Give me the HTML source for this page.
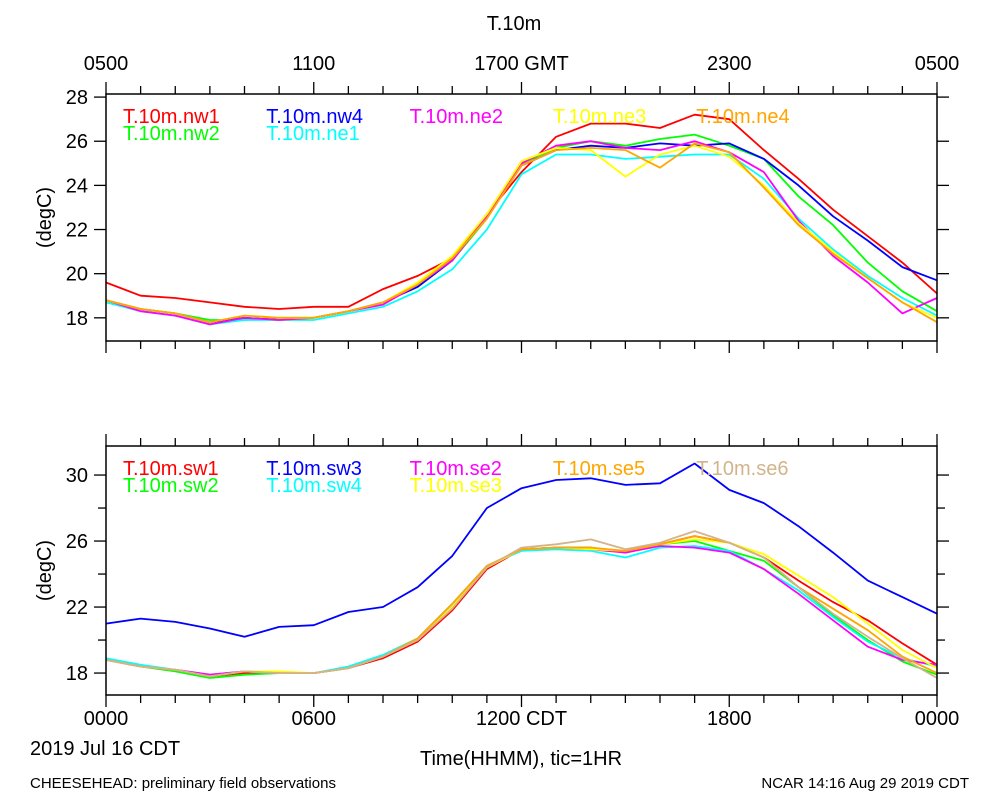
<!DOCTYPE html>
<html><head><meta charset="utf-8"><style>
body{margin:0;background:#fff;}
svg{display:block;font-family:"Liberation Sans",sans-serif;}
</style></head><body>
<svg id="chart" width="1000" height="800" viewBox="0 0 1000 800">
<text x="514" y="30" font-size="20" text-anchor="middle">T.10m</text>
<text x="30" y="755" font-size="20">2019 Jul 16 CDT</text>
<text x="521" y="765" font-size="20" text-anchor="middle">Time(HHMM), tic=1HR</text>
<text x="30" y="788" font-size="15">CHEESEHEAD: preliminary field observations</text>
<text x="969" y="788" font-size="15" text-anchor="end">NCAR 14:16 Aug 29 2019 CDT</text>
</svg>
<script>
const hours=[0,1,2,3,4,5,6,7,8,9,10,11,12,13,14,15,16,17,18,19,20,21,22,23,24];
const topTickLabels=["0500","1100","1700 GMT","2300","0500"];
const botTickLabels=["0000","0600","1200 CDT","1800","0000"];
const topYTicks=[18,20,22,24,26,28];
const botYLabels=[18,22,26,30];
const nw1=[19.6,19.0,18.9,18.7,18.5,18.4,18.5,18.5,19.3,19.9,20.7,22.7,24.6,26.2,26.8,26.8,26.6,27.2,27.0,25.6,24.3,22.9,21.7,20.5,19.1];
const nw4=[18.8,18.4,18.2,17.8,18.0,17.9,18.0,18.3,18.7,19.4,20.6,22.6,24.9,25.6,25.8,25.7,25.9,25.8,25.9,25.2,24.0,22.6,21.5,20.3,19.7];
const ne2=[18.8,18.3,18.1,17.7,18.0,17.9,18.0,18.3,18.6,19.5,20.6,22.6,25.0,25.8,26.0,25.7,25.6,26.0,25.5,24.6,22.4,20.8,19.6,18.2,18.9];
const ne3=[18.8,18.4,18.2,17.8,18.1,18.0,18.0,18.3,18.7,19.6,20.8,22.7,25.1,25.7,25.6,24.4,25.4,25.8,25.3,24.0,22.3,21.0,19.8,18.7,18.0];
const ne4=[18.8,18.4,18.2,17.8,18.1,18.0,18.0,18.3,18.7,19.5,20.7,22.5,24.9,25.6,25.7,25.6,24.8,25.9,25.5,23.9,22.2,20.9,19.8,18.7,17.8];
const nw2=[18.8,18.4,18.2,17.9,17.9,18.0,18.0,18.3,18.7,19.4,20.6,22.5,25.0,25.7,26.0,25.8,26.1,26.3,25.8,25.2,23.5,22.2,20.5,19.2,18.3];
const ne1=[18.7,18.3,18.1,17.7,17.9,17.9,17.9,18.2,18.5,19.2,20.2,22.0,24.5,25.4,25.4,25.2,25.3,25.4,25.4,24.3,22.5,21.1,19.9,18.9,18.1];
const sw1=[18.8,18.4,18.2,17.8,18.0,18.0,18.0,18.3,18.9,19.9,21.8,24.3,25.5,25.6,25.6,25.3,25.8,26.3,25.9,25.0,23.6,22.3,21.2,19.8,18.5];
const sw3=[21.0,21.3,21.1,20.7,20.2,20.8,20.9,21.7,22.0,23.2,25.1,28.0,29.2,29.7,29.8,29.4,29.5,30.7,29.1,28.3,26.9,25.3,23.6,22.6,21.6];
const se2=[18.8,18.4,18.2,17.9,18.1,18.0,18.0,18.3,19.0,20.0,22.0,24.4,25.5,25.6,25.5,25.3,25.7,25.6,25.3,24.3,22.8,21.2,19.6,18.8,18.5];
const se5=[18.8,18.4,18.2,17.8,18.1,18.0,18.0,18.3,19.0,20.1,22.2,24.5,25.5,25.6,25.6,25.4,25.8,26.3,25.9,25.0,23.2,21.9,20.6,19.0,18.0];
const se6=[18.8,18.4,18.2,17.8,18.1,18.0,18.0,18.3,19.0,20.0,21.9,24.4,25.6,25.8,26.1,25.5,25.9,26.6,25.9,25.0,23.2,21.6,20.2,18.9,17.7];
const sw2=[18.8,18.4,18.1,17.7,17.9,18.0,18.0,18.3,19.0,20.0,22.0,24.4,25.5,25.6,25.6,25.3,25.8,26.0,25.4,24.8,23.2,21.5,20.0,18.7,17.9];
const sw4=[18.9,18.5,18.2,17.9,18.1,18.0,18.0,18.4,19.1,20.1,22.2,24.5,25.4,25.5,25.4,25.0,25.6,25.7,25.4,24.3,23.0,21.4,19.9,18.9,18.4];
const se3=[18.8,18.4,18.2,17.8,18.1,18.1,18.0,18.3,19.0,20.0,22.0,24.4,25.5,25.6,25.5,25.4,25.8,26.1,25.9,25.2,23.9,22.6,21.0,19.4,18.3];

const NS="http://www.w3.org/2000/svg";
const svg=document.getElementById('chart');
function mk(tag,attrs,parent){const e=document.createElementNS(NS,tag);for(const k in attrs)e.setAttribute(k,attrs[k]);(parent||svg).appendChild(e);return e;}
const X0=106,X1=937;
const xs=h=>X0+(X1-X0)*h/24;

function panel(name,top,bottom,ymin,ymax,ticks,labels,xlabels,xlabY,series){
  const ys=v=>bottom-(v-ymin)/(ymax-ymin)*(bottom-top);
  const g=mk('g',{});
  
  
  for(let h=0;h<=24;h++){
    const L=(h%6===0)?12:8,x=xs(h);
    const t1=mk('line',{x1:x,x2:x,y1:top,y2:top-L,stroke:'#000','stroke-width':1.3},g);
    
    
    const t2=mk('line',{x1:x,x2:x,y1:bottom,y2:bottom+L,stroke:'#000','stroke-width':1.3},g);
    
    
  }
  xlabels.forEach((s,i)=>{
    const t=mk('text',{x:xs(i*6),y:xlabY,'font-size':20,'text-anchor':'middle'},g);t.textContent=s;
    
    
  });
  ticks.forEach(v=>{
    const y=ys(v),L=labels.includes(v)?12:8;
    const a=mk('line',{x1:X0,x2:X0-L,y1:y,y2:y,stroke:'#000','stroke-width':1.3},g);
    
    
    const b=mk('line',{x1:X1,x2:X1+L,y1:y,y2:y,stroke:'#000','stroke-width':1.3},g);
    
    
    if(labels.includes(v)){
      const t=mk('text',{x:88,y:y+7,'font-size':20,'text-anchor':'end'},g);t.textContent=v;
      
      
    }
  });
  const yt=mk('text',{x:0,y:0,'font-size':20,'text-anchor':'middle',transform:`translate(51,${(top+bottom)/2}) rotate(-90)`},g);
  yt.textContent='(degC)';
  
  
  series.forEach(s=>{
    const d=s.data.map((v,i)=>(i?'L':'M')+xs(hours[i]).toFixed(1)+','+ys(v).toFixed(1)).join('');
    const p=mk('path',{d:d,fill:'none',stroke:s.color,'stroke-width':1.8,'stroke-linejoin':'round'},g);
    
    
  });
  series.forEach(s=>{
    const t=mk('text',{x:123+143.3*s.col,y:top+29+17*s.row,'font-size':20,fill:s.color},g);t.textContent=s.label;
    
    
  });
  const fr=mk('rect',{x:X0,y:top,width:X1-X0,height:bottom-top,fill:'none',stroke:'#000','stroke-width':1.5},g);
  
  
}
panel('top-panel',94,341,16.95,28.14,[18,20,22,24,26,28],[18,20,22,24,26,28],topTickLabels,70,[
 {label:'T.10m.nw1',color:'#ff0000',data:nw1,col:0,row:0},
 {label:'T.10m.nw2',color:'#00ff00',data:nw2,col:0,row:1},
 {label:'T.10m.nw4',color:'#0000ff',data:nw4,col:1,row:0},
 {label:'T.10m.ne1',color:'#00ffff',data:ne1,col:1,row:1},
 {label:'T.10m.ne2',color:'#ff00ff',data:ne2,col:2,row:0},
 {label:'T.10m.ne3',color:'#ffff00',data:ne3,col:3,row:0},
 {label:'T.10m.ne4',color:'#ffa500',data:ne4,col:4,row:0}]);
panel('bottom-panel',446,695,16.67,31.76,[18,20,22,24,26,28,30],botYLabels,botTickLabels,725,[
 {label:'T.10m.sw1',color:'#ff0000',data:sw1,col:0,row:0},
 {label:'T.10m.sw2',color:'#00ff00',data:sw2,col:0,row:1},
 {label:'T.10m.sw3',color:'#0000ff',data:sw3,col:1,row:0},
 {label:'T.10m.sw4',color:'#00ffff',data:sw4,col:1,row:1},
 {label:'T.10m.se2',color:'#ff00ff',data:se2,col:2,row:0},
 {label:'T.10m.se3',color:'#ffff00',data:se3,col:2,row:1},
 {label:'T.10m.se5',color:'#ffa500',data:se5,col:3,row:0},
 {label:'T.10m.se6',color:'#d2b48c',data:se6,col:4,row:0}]);
</script>
</body></html>
